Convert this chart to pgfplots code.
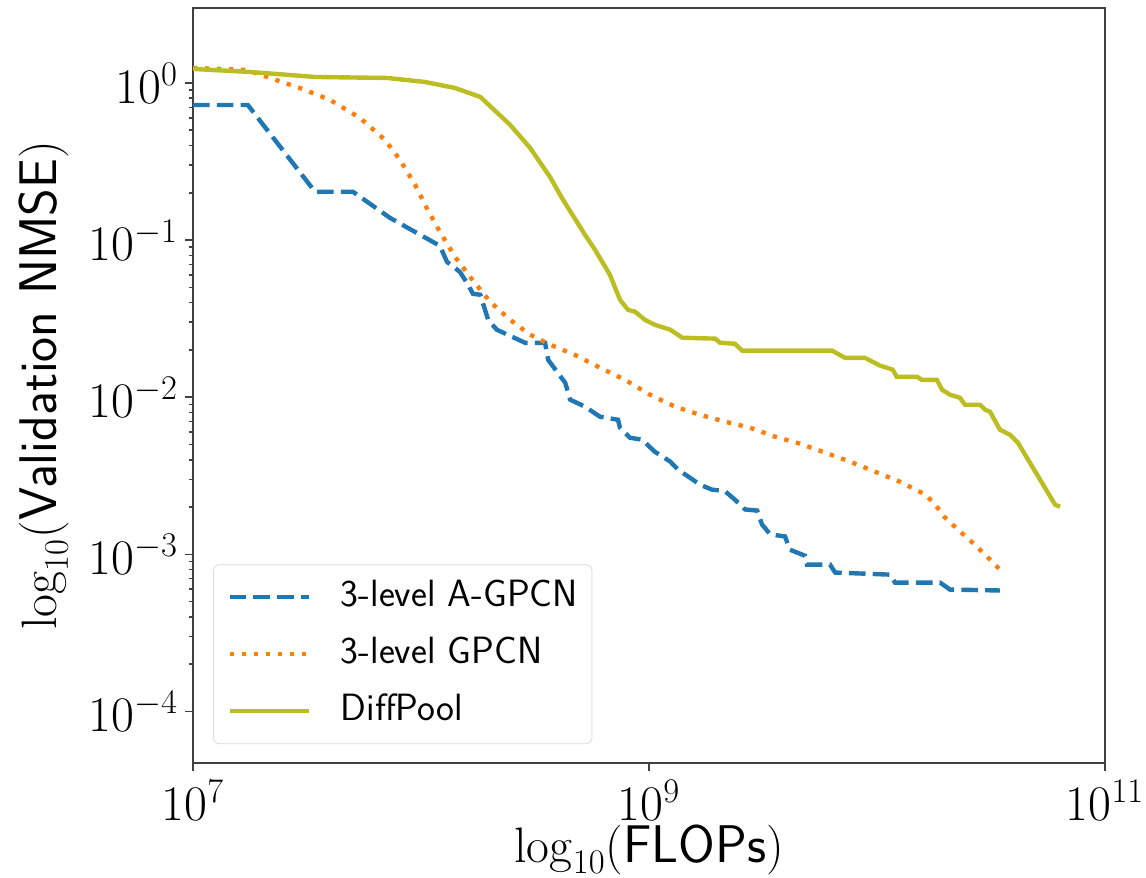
\documentclass[border=0pt]{standalone}
\usepackage{pgfplots}
\pgfplotsset{compat=1.18}
\definecolor{mplblue}{HTML}{1F77B4}
\definecolor{mplorange}{HTML}{FF7F0E}
\definecolor{mplolive}{HTML}{BCBD22}
\begin{document}
\begin{tikzpicture}
\begin{axis}[
  scale only axis,
  width=456pt, height=377.5pt,
  xmode=log, ymode=log,
  xmin=1e7, xmax=1e11, ymin=4.7e-5, ymax=3,
  xtick={1e7,1e9,1e11},
  xminorticks=false,
  ytick={1e-4,1e-3,1e-2,1e-1,1},
  axis line style={black!75, line width=1pt},
  every tick/.style={black!75, line width=0.8pt},
  tick align=outside,
  major tick length=4pt, minor tick length=2.2pt,
  tick pos=left,
  tick label style={font=\fontsize{24}{24}\selectfont},
  xticklabel style={inner sep=1pt, yshift=-3.3pt},
  label style={font=\fontsize{26.5}{26.5}\selectfont},
  xlabel={$\log_{10}(\textsf{FLOPs})$},
  ylabel={$\log_{10}(\textsf{Validation NMSE})$},
  xlabel style={at={(axis description cs:0.5,0)}, anchor=north, inner sep=1pt, yshift=-29.5pt},
  ylabel style={yshift=3pt},
  legend cell align=left,
  legend style={
    at={(axis description cs:0.022,0.025)}, anchor=south west,
    draw=black!15, rounded corners=3pt, fill=white, fill opacity=0.8, text opacity=1,
    font=\fontsize{19}{19}\selectfont\sffamily,
    inner xsep=7pt, inner ysep=7.5pt,
    row sep=11pt,
    nodes={inner sep=0pt, text height=13.5pt, text depth=4pt},
    /tikz/every even column/.append style={column sep=0pt},
  },
  legend image code/.code={\draw[#1] (0pt,0pt) -- (39.5pt,0pt);},
  legend style={/tikz/every odd column/.append style={column sep=15pt}},
  clip mode=individual,
]
\addplot[mplblue, line width=2.2pt, dash pattern=on 8.3pt off 3.6pt] coordinates {
(1e7,0.724) (1.74e7,0.724) (3.43e7,0.203) (5.03e7,0.203) (7.31e7,0.1385)
(1.21e8,0.0919) (1.30e8,0.0727) (1.48e8,0.0628) (1.59e8,0.0535) (1.69e8,0.0455)
(1.82e8,0.0449) (1.97e8,0.0311) (2.15e8,0.0269) (2.86e8,0.0222) (3.50e8,0.0222)
(3.61e8,0.0173) (4.29e8,0.01236) (4.51e8,0.00964) (5.24e8,0.00871) (6.10e8,0.00751)
(7.31e8,0.00719) (7.46e8,0.00640) (8.26e8,0.00552) (9.32e8,0.00537) (1.06e9,0.00450)
(1.24e9,0.00389) (1.34e9,0.00346) (1.51e9,0.00308) (1.67e9,0.00278) (1.89e9,0.00258)
(2.15e9,0.00253) (2.38e9,0.00223) (2.64e9,0.00193) (2.98e9,0.00190) (3.13e9,0.00155)
(3.40e9,0.00134) (3.95e9,0.00130) (4.15e9,0.00107) (4.83e9,0.00098) (4.93e9,0.000861)
(6.22e9,0.000861) (6.55e9,0.000766) (1.14e10,0.000743) (1.20e10,0.000661) (1.89e10,0.000661)
(2.09e10,0.000597) (3.46e10,0.000589)
};
\addlegendentry{3-level A-GPCN}
\addplot[mplorange, line width=2.2pt, dash pattern=on 2.2pt off 3.8pt] coordinates {
(1e7,1.246) (1.72e7,1.21) (2.18e7,1.076) (2.94e7,0.929) (3.99e7,0.780)
(5.40e7,0.599) (6.95e7,0.434) (8.09e7,0.324) (9.42e7,0.2246) (1.07e8,0.1557)
(1.21e8,0.1129) (1.41e8,0.0782) (1.64e8,0.0584) (2.01e8,0.0405) (2.46e8,0.0311)
(3.01e8,0.0250) (3.68e8,0.0216) (4.73e8,0.0186) (6.10e8,0.0154) (7.85e8,0.0129)
(1.01e9,0.01037) (1.30e9,0.00871) (1.67e9,0.00774) (2.15e9,0.00699) (2.77e9,0.00640)
(3.57e9,0.00561) (4.59e9,0.00506) (5.92e9,0.00444) (7.62e9,0.00389) (9.80e9,0.00336)
(1.26e10,0.00290) (1.63e10,0.00240) (1.80e10,0.00207) (1.99e10,0.00171) (2.31e10,0.00140)
(2.69e10,0.00115) (3.13e10,0.000926) (3.46e10,0.000800)
};
\addlegendentry{3-level GPCN}
\addplot[mplolive, line width=2.2pt] coordinates {
(1e7,1.228) (1.78e7,1.175) (3.43e7,1.092) (7.10e7,1.076) (1.04e8,1.015)
(1.41e8,0.929) (1.82e8,0.815) (2.46e8,0.541) (3.01e8,0.386) (3.68e8,0.252)
(4.20e8,0.180) (5.24e8,0.108) (5.80e8,0.0867) (6.74e8,0.0601) (7.46e8,0.0417)
(8.09e8,0.0360) (8.69e8,0.0350) (9.60e8,0.0311) (1.06e9,0.0289) (1.24e9,0.0269)
(1.40e9,0.0239) (1.95e9,0.0236) (2.05e9,0.0222) (2.38e9,0.0219) (2.56e9,0.0198)
(6.35e9,0.0198) (7.25e9,0.0178) (8.86e9,0.0178) (1.03e10,0.0159) (1.17e10,0.0150)
(1.22e10,0.0135) (1.50e10,0.0135) (1.57e10,0.0129) (1.83e10,0.0129) (1.93e10,0.01116)
(2.09e10,0.01037) (2.31e10,0.00993) (2.43e10,0.00896) (2.83e10,0.00896) (2.98e10,0.00833)
(3.13e10,0.00809) (3.46e10,0.00621) (3.83e10,0.00577) (4.15e10,0.00514) (4.46e10,0.00431)
(5.19e10,0.00299) (6.04e10,0.00207) (6.35e10,0.00201)
};
\addlegendentry{DiffPool}
\end{axis}
\pgfresetboundingbox
\path (current axis.south west) ++(-96.5pt,-57.5pt) coordinate (bl);
\path (current axis.north east) ++(20.5pt,4pt) coordinate (tr);
\useasboundingbox (bl) rectangle (tr);
\end{tikzpicture}
\end{document}
